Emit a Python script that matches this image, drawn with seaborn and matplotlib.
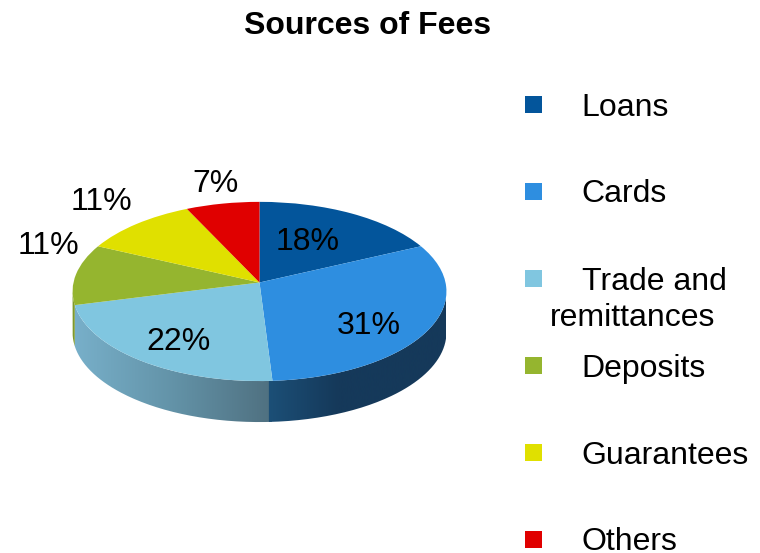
import numpy as np
import matplotlib
matplotlib.use("Agg")
import matplotlib.pyplot as plt
import matplotlib.transforms as mtransforms
from matplotlib.colors import LinearSegmentedColormap
from matplotlib.patches import PathPatch, Rectangle
from matplotlib.path import Path
import seaborn as sns

title = "Sources of Fees"
categories = ["Loans", "Cards", "Trade and\nremittances", "Deposits", "Guarantees", "Others"]
shares = [18, 31, 22, 11, 11, 7]
colors = ["#03559b", "#2e8ee0", "#80c6e0", "#95b52f", "#e0e000", "#e00000"]

sns.set_theme(style="white")
plt.rcParams["font.family"] = ["Liberation Sans", "DejaVu Sans"]

W, H = 760, 553
CX, CY, A, B, K, C, DEPTH = 259.5, 291.5, 186.0, 88.7, 0.10, 9.0, 41.0
FS = 23


def project(uv):
    uv = np.asarray(uv, dtype=float)
    w = 1 + K * uv[:, 1]
    return np.column_stack([CX + A * uv[:, 0] / w, CY - (B * uv[:, 1] / w + C)])


class Tilt(mtransforms.Transform):
    input_dims = output_dims = 2
    is_separable = False
    has_inverse = False

    def transform_non_affine(self, values):
        return project(values)


fig = plt.figure(figsize=(W / 100, H / 100), dpi=100, facecolor="white")
ax = fig.add_axes([0, 0, 1, 1])

wedges, _ = ax.pie(shares, colors=colors, startangle=90, counterclock=False,
                   wedgeprops={"linewidth": 0})
tilt = Tilt() + ax.transData
for w in wedges:
    w.set_transform(tilt)


def rim(a0, a1, n=120):
    t = np.radians(np.linspace(a0, a1, n))
    return project(np.column_stack([np.sin(t), np.cos(t)]))


def wall(a0, a1, color_stops, x_range, zorder=0.5):
    top = rim(a0, a1)
    bot = top[::-1] + [0, DEPTH]
    path = Path(np.vstack([top, bot, top[:1]]))
    patch = PathPatch(path, facecolor="none", edgecolor="none", transform=ax.transData)
    ax.add_patch(patch)
    cmap = LinearSegmentedColormap.from_list("w", color_stops)
    im = ax.imshow(np.linspace(0, 1, 256)[None, :], cmap=cmap, aspect="auto",
                   extent=[x_range[0], x_range[1], 553, 0], zorder=zorder)
    im.set_clip_path(patch)


cum = np.cumsum(shares) / sum(shares) * 360
lim = np.degrees(np.arccos(-K))
wall(cum[1], cum[2], [(0, "#78b0ca"), (0.5, "#6393a8"), (1, "#4f7080")], (73, 272), zorder=0.4)
wall(lim, cum[1] + 1, [(0, "#1c5078"), (0.4, "#15395a"), (1, "#15395a")], (266, 446), zorder=0.5)
wall(cum[2], 360 - lim, ["#7f9a2d", "#7f9a2d"], (70, 80))

ax.set_xlim(0, W)
ax.set_ylim(H, 0)
ax.set_aspect("auto")
ax.axis("off")

# slice labels
label_pos = [(308, 242), (369, 326), (179, 342), (48, 246), (101, 202), (215, 184)]
for s, (x, y) in zip(shares, label_pos):
    ax.text(x, y, f"{s}%", fontsize=FS, color="black", ha="center", va="center")

ax.text(367.5, 26, title, fontsize=FS, fontweight="bold", color="black", ha="center", va="center")

# legend
rows = [104.5, 191.5, 278.5, 365.5, 452.5, 539.5]
for name, col, y in zip(categories, colors, rows):
    ax.add_patch(Rectangle((525, y - 8.5), 17, 17, facecolor=col, edgecolor="none"))
    lines = name.split("\n")
    ax.text(581.5, y + 3, lines[0], fontsize=FS, color="black", ha="left", va="center")
    if len(lines) > 1:
        ax.text(549.5, y + 40, lines[1], fontsize=FS, color="black", ha="left", va="center")

fig.savefig("out.png", dpi=100, facecolor="white")
